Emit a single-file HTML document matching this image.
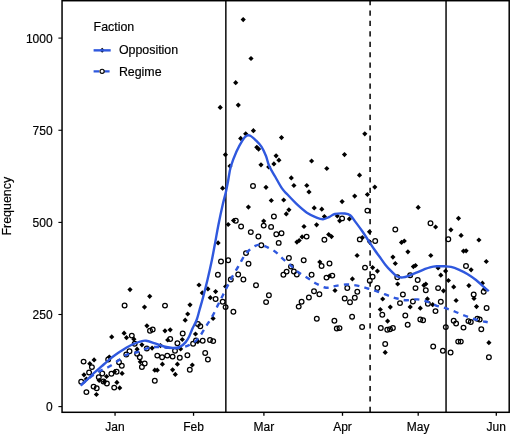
<!DOCTYPE html>
<html><head><meta charset="utf-8"><style>
html,body{margin:0;padding:0;background:#fff;}
body{width:510px;height:434px;overflow:hidden;}
svg{display:block;}
text{-webkit-font-smoothing:antialiased;}
svg{will-change:transform;}
.t{font-family:"Liberation Sans",sans-serif;font-size:12px;fill:#000;stroke:#000;stroke-width:0.18px;}
.t2{font-family:"Liberation Sans",sans-serif;font-size:12.4px;fill:#000;stroke:#000;stroke-width:0.18px;}
</style></head><body>
<svg width="510" height="434" viewBox="0 0 510 434">
<rect x="0" y="0" width="510" height="434" fill="#fff"/>
<line x1="225.85" y1="0" x2="225.85" y2="412" stroke="#000" stroke-width="1.45"/>
<line x1="446.05" y1="0" x2="446.05" y2="412" stroke="#000" stroke-width="1.45"/>
<line x1="370.1" y1="0" x2="370.1" y2="412" stroke="#000" stroke-width="1.5" stroke-dasharray="5.2 5.23"/>
<circle cx="253.0" cy="186.0" r="2.35" fill="none" stroke="#000" stroke-width="1.25"/>
<circle cx="395.3" cy="229.5" r="2.35" fill="none" stroke="#000" stroke-width="1.25"/>
<circle cx="430.5" cy="223.2" r="2.35" fill="none" stroke="#000" stroke-width="1.25"/>
<circle cx="448.3" cy="239.2" r="2.35" fill="none" stroke="#000" stroke-width="1.25"/>
<circle cx="235.8" cy="220.8" r="2.35" fill="none" stroke="#000" stroke-width="1.25"/>
<circle cx="241.1" cy="226.5" r="2.35" fill="none" stroke="#000" stroke-width="1.25"/>
<circle cx="250.8" cy="232.1" r="2.35" fill="none" stroke="#000" stroke-width="1.25"/>
<circle cx="258.4" cy="236.5" r="2.35" fill="none" stroke="#000" stroke-width="1.25"/>
<circle cx="263.7" cy="225.6" r="2.35" fill="none" stroke="#000" stroke-width="1.25"/>
<circle cx="261.3" cy="245.3" r="2.35" fill="none" stroke="#000" stroke-width="1.25"/>
<circle cx="246.0" cy="253.1" r="2.35" fill="none" stroke="#000" stroke-width="1.25"/>
<circle cx="221.0" cy="261.5" r="2.35" fill="none" stroke="#000" stroke-width="1.25"/>
<circle cx="228.2" cy="260.3" r="2.35" fill="none" stroke="#000" stroke-width="1.25"/>
<circle cx="273.9" cy="216.5" r="2.35" fill="none" stroke="#000" stroke-width="1.25"/>
<circle cx="271.1" cy="226.9" r="2.35" fill="none" stroke="#000" stroke-width="1.25"/>
<circle cx="276.3" cy="234.2" r="2.35" fill="none" stroke="#000" stroke-width="1.25"/>
<circle cx="281.5" cy="233.2" r="2.35" fill="none" stroke="#000" stroke-width="1.25"/>
<circle cx="278.7" cy="242.9" r="2.35" fill="none" stroke="#000" stroke-width="1.25"/>
<circle cx="306.6" cy="236.6" r="2.35" fill="none" stroke="#000" stroke-width="1.25"/>
<circle cx="324.4" cy="239.7" r="2.35" fill="none" stroke="#000" stroke-width="1.25"/>
<circle cx="288.9" cy="257.9" r="2.35" fill="none" stroke="#000" stroke-width="1.25"/>
<circle cx="303.7" cy="260.3" r="2.35" fill="none" stroke="#000" stroke-width="1.25"/>
<circle cx="329.5" cy="263.5" r="2.35" fill="none" stroke="#000" stroke-width="1.25"/>
<circle cx="367.4" cy="210.6" r="2.35" fill="none" stroke="#000" stroke-width="1.25"/>
<circle cx="342.1" cy="218.4" r="2.35" fill="none" stroke="#000" stroke-width="1.25"/>
<circle cx="359.8" cy="239.4" r="2.35" fill="none" stroke="#000" stroke-width="1.25"/>
<circle cx="375.2" cy="241.0" r="2.35" fill="none" stroke="#000" stroke-width="1.25"/>
<circle cx="165.0" cy="305.6" r="2.35" fill="none" stroke="#000" stroke-width="1.25"/>
<circle cx="124.6" cy="305.5" r="2.35" fill="none" stroke="#000" stroke-width="1.25"/>
<circle cx="217.9" cy="274.8" r="2.35" fill="none" stroke="#000" stroke-width="1.25"/>
<circle cx="238.2" cy="274.4" r="2.35" fill="none" stroke="#000" stroke-width="1.25"/>
<circle cx="230.8" cy="279.5" r="2.35" fill="none" stroke="#000" stroke-width="1.25"/>
<circle cx="243.4" cy="279.5" r="2.35" fill="none" stroke="#000" stroke-width="1.25"/>
<circle cx="256.0" cy="285.2" r="2.35" fill="none" stroke="#000" stroke-width="1.25"/>
<circle cx="215.6" cy="299.0" r="2.35" fill="none" stroke="#000" stroke-width="1.25"/>
<circle cx="222.7" cy="301.8" r="2.35" fill="none" stroke="#000" stroke-width="1.25"/>
<circle cx="225.6" cy="307.1" r="2.35" fill="none" stroke="#000" stroke-width="1.25"/>
<circle cx="233.4" cy="311.8" r="2.35" fill="none" stroke="#000" stroke-width="1.25"/>
<circle cx="266.1" cy="302.1" r="2.35" fill="none" stroke="#000" stroke-width="1.25"/>
<circle cx="197.9" cy="323.9" r="2.35" fill="none" stroke="#000" stroke-width="1.25"/>
<circle cx="321.6" cy="266.0" r="2.35" fill="none" stroke="#000" stroke-width="1.25"/>
<circle cx="291.0" cy="266.6" r="2.35" fill="none" stroke="#000" stroke-width="1.25"/>
<circle cx="286.6" cy="271.6" r="2.35" fill="none" stroke="#000" stroke-width="1.25"/>
<circle cx="283.4" cy="274.8" r="2.35" fill="none" stroke="#000" stroke-width="1.25"/>
<circle cx="293.9" cy="271.5" r="2.35" fill="none" stroke="#000" stroke-width="1.25"/>
<circle cx="296.8" cy="274.4" r="2.35" fill="none" stroke="#000" stroke-width="1.25"/>
<circle cx="311.6" cy="274.8" r="2.35" fill="none" stroke="#000" stroke-width="1.25"/>
<circle cx="326.5" cy="277.6" r="2.35" fill="none" stroke="#000" stroke-width="1.25"/>
<circle cx="314.0" cy="291.3" r="2.35" fill="none" stroke="#000" stroke-width="1.25"/>
<circle cx="319.4" cy="294.2" r="2.35" fill="none" stroke="#000" stroke-width="1.25"/>
<circle cx="308.9" cy="297.4" r="2.35" fill="none" stroke="#000" stroke-width="1.25"/>
<circle cx="301.6" cy="301.8" r="2.35" fill="none" stroke="#000" stroke-width="1.25"/>
<circle cx="298.7" cy="306.6" r="2.35" fill="none" stroke="#000" stroke-width="1.25"/>
<circle cx="268.9" cy="295.3" r="2.35" fill="none" stroke="#000" stroke-width="1.25"/>
<circle cx="316.8" cy="318.7" r="2.35" fill="none" stroke="#000" stroke-width="1.25"/>
<circle cx="332.3" cy="275.6" r="2.35" fill="none" stroke="#000" stroke-width="1.25"/>
<circle cx="365.0" cy="267.6" r="2.35" fill="none" stroke="#000" stroke-width="1.25"/>
<circle cx="372.6" cy="276.8" r="2.35" fill="none" stroke="#000" stroke-width="1.25"/>
<circle cx="369.8" cy="280.8" r="2.35" fill="none" stroke="#000" stroke-width="1.25"/>
<circle cx="347.3" cy="288.0" r="2.35" fill="none" stroke="#000" stroke-width="1.25"/>
<circle cx="357.3" cy="291.8" r="2.35" fill="none" stroke="#000" stroke-width="1.25"/>
<circle cx="354.8" cy="297.7" r="2.35" fill="none" stroke="#000" stroke-width="1.25"/>
<circle cx="344.7" cy="298.5" r="2.35" fill="none" stroke="#000" stroke-width="1.25"/>
<circle cx="350.0" cy="302.3" r="2.35" fill="none" stroke="#000" stroke-width="1.25"/>
<circle cx="377.4" cy="288.0" r="2.35" fill="none" stroke="#000" stroke-width="1.25"/>
<circle cx="382.3" cy="314.7" r="2.35" fill="none" stroke="#000" stroke-width="1.25"/>
<circle cx="352.1" cy="316.8" r="2.35" fill="none" stroke="#000" stroke-width="1.25"/>
<circle cx="334.4" cy="320.8" r="2.35" fill="none" stroke="#000" stroke-width="1.25"/>
<circle cx="397.3" cy="277.3" r="2.35" fill="none" stroke="#000" stroke-width="1.25"/>
<circle cx="410.2" cy="275.2" r="2.35" fill="none" stroke="#000" stroke-width="1.25"/>
<circle cx="417.7" cy="280.0" r="2.35" fill="none" stroke="#000" stroke-width="1.25"/>
<circle cx="415.5" cy="288.1" r="2.35" fill="none" stroke="#000" stroke-width="1.25"/>
<circle cx="425.8" cy="290.2" r="2.35" fill="none" stroke="#000" stroke-width="1.25"/>
<circle cx="438.1" cy="288.1" r="2.35" fill="none" stroke="#000" stroke-width="1.25"/>
<circle cx="402.9" cy="294.5" r="2.35" fill="none" stroke="#000" stroke-width="1.25"/>
<circle cx="400.0" cy="303.1" r="2.35" fill="none" stroke="#000" stroke-width="1.25"/>
<circle cx="412.9" cy="301.5" r="2.35" fill="none" stroke="#000" stroke-width="1.25"/>
<circle cx="427.9" cy="303.7" r="2.35" fill="none" stroke="#000" stroke-width="1.25"/>
<circle cx="440.8" cy="301.8" r="2.35" fill="none" stroke="#000" stroke-width="1.25"/>
<circle cx="435.5" cy="311.1" r="2.35" fill="none" stroke="#000" stroke-width="1.25"/>
<circle cx="405.3" cy="315.5" r="2.35" fill="none" stroke="#000" stroke-width="1.25"/>
<circle cx="420.3" cy="319.5" r="2.35" fill="none" stroke="#000" stroke-width="1.25"/>
<circle cx="423.1" cy="320.3" r="2.35" fill="none" stroke="#000" stroke-width="1.25"/>
<circle cx="407.7" cy="324.7" r="2.35" fill="none" stroke="#000" stroke-width="1.25"/>
<circle cx="453.7" cy="320.8" r="2.35" fill="none" stroke="#000" stroke-width="1.25"/>
<circle cx="456.1" cy="323.5" r="2.35" fill="none" stroke="#000" stroke-width="1.25"/>
<circle cx="466.0" cy="266.0" r="2.35" fill="none" stroke="#000" stroke-width="1.25"/>
<circle cx="483.7" cy="291.8" r="2.35" fill="none" stroke="#000" stroke-width="1.25"/>
<circle cx="473.7" cy="294.5" r="2.35" fill="none" stroke="#000" stroke-width="1.25"/>
<circle cx="486.6" cy="307.9" r="2.35" fill="none" stroke="#000" stroke-width="1.25"/>
<circle cx="468.4" cy="321.1" r="2.35" fill="none" stroke="#000" stroke-width="1.25"/>
<circle cx="470.8" cy="321.9" r="2.35" fill="none" stroke="#000" stroke-width="1.25"/>
<circle cx="477.3" cy="318.7" r="2.35" fill="none" stroke="#000" stroke-width="1.25"/>
<circle cx="479.7" cy="319.5" r="2.35" fill="none" stroke="#000" stroke-width="1.25"/>
<circle cx="463.5" cy="327.6" r="2.35" fill="none" stroke="#000" stroke-width="1.25"/>
<circle cx="481.3" cy="329.2" r="2.35" fill="none" stroke="#000" stroke-width="1.25"/>
<circle cx="445.8" cy="327.1" r="2.35" fill="none" stroke="#000" stroke-width="1.25"/>
<circle cx="458.2" cy="341.6" r="2.35" fill="none" stroke="#000" stroke-width="1.25"/>
<circle cx="460.8" cy="341.6" r="2.35" fill="none" stroke="#000" stroke-width="1.25"/>
<circle cx="450.6" cy="352.4" r="2.35" fill="none" stroke="#000" stroke-width="1.25"/>
<circle cx="488.9" cy="357.3" r="2.35" fill="none" stroke="#000" stroke-width="1.25"/>
<circle cx="380.8" cy="327.9" r="2.35" fill="none" stroke="#000" stroke-width="1.25"/>
<circle cx="387.3" cy="329.8" r="2.35" fill="none" stroke="#000" stroke-width="1.25"/>
<circle cx="390.0" cy="329.2" r="2.35" fill="none" stroke="#000" stroke-width="1.25"/>
<circle cx="392.9" cy="327.9" r="2.35" fill="none" stroke="#000" stroke-width="1.25"/>
<circle cx="385.2" cy="344.0" r="2.35" fill="none" stroke="#000" stroke-width="1.25"/>
<circle cx="433.2" cy="346.5" r="2.35" fill="none" stroke="#000" stroke-width="1.25"/>
<circle cx="442.9" cy="350.8" r="2.35" fill="none" stroke="#000" stroke-width="1.25"/>
<circle cx="336.8" cy="328.5" r="2.35" fill="none" stroke="#000" stroke-width="1.25"/>
<circle cx="339.5" cy="328.1" r="2.35" fill="none" stroke="#000" stroke-width="1.25"/>
<circle cx="362.1" cy="326.9" r="2.35" fill="none" stroke="#000" stroke-width="1.25"/>
<circle cx="200.3" cy="326.3" r="2.35" fill="none" stroke="#000" stroke-width="1.25"/>
<circle cx="193.1" cy="343.7" r="2.35" fill="none" stroke="#000" stroke-width="1.25"/>
<circle cx="196.0" cy="340.5" r="2.35" fill="none" stroke="#000" stroke-width="1.25"/>
<circle cx="202.7" cy="340.8" r="2.35" fill="none" stroke="#000" stroke-width="1.25"/>
<circle cx="210.0" cy="340.0" r="2.35" fill="none" stroke="#000" stroke-width="1.25"/>
<circle cx="213.2" cy="341.1" r="2.35" fill="none" stroke="#000" stroke-width="1.25"/>
<circle cx="205.2" cy="352.9" r="2.35" fill="none" stroke="#000" stroke-width="1.25"/>
<circle cx="207.9" cy="359.4" r="2.35" fill="none" stroke="#000" stroke-width="1.25"/>
<circle cx="187.4" cy="355.3" r="2.35" fill="none" stroke="#000" stroke-width="1.25"/>
<circle cx="189.8" cy="369.8" r="2.35" fill="none" stroke="#000" stroke-width="1.25"/>
<circle cx="150.0" cy="330.8" r="2.35" fill="none" stroke="#000" stroke-width="1.25"/>
<circle cx="152.7" cy="329.5" r="2.35" fill="none" stroke="#000" stroke-width="1.25"/>
<circle cx="182.7" cy="333.5" r="2.35" fill="none" stroke="#000" stroke-width="1.25"/>
<circle cx="131.8" cy="335.6" r="2.35" fill="none" stroke="#000" stroke-width="1.25"/>
<circle cx="170.2" cy="338.9" r="2.35" fill="none" stroke="#000" stroke-width="1.25"/>
<circle cx="177.4" cy="343.2" r="2.35" fill="none" stroke="#000" stroke-width="1.25"/>
<circle cx="146.8" cy="348.5" r="2.35" fill="none" stroke="#000" stroke-width="1.25"/>
<circle cx="134.7" cy="343.7" r="2.35" fill="none" stroke="#000" stroke-width="1.25"/>
<circle cx="129.5" cy="351.3" r="2.35" fill="none" stroke="#000" stroke-width="1.25"/>
<circle cx="126.3" cy="354.5" r="2.35" fill="none" stroke="#000" stroke-width="1.25"/>
<circle cx="137.1" cy="353.7" r="2.35" fill="none" stroke="#000" stroke-width="1.25"/>
<circle cx="139.8" cy="357.3" r="2.35" fill="none" stroke="#000" stroke-width="1.25"/>
<circle cx="157.3" cy="355.6" r="2.35" fill="none" stroke="#000" stroke-width="1.25"/>
<circle cx="162.1" cy="357.3" r="2.35" fill="none" stroke="#000" stroke-width="1.25"/>
<circle cx="167.3" cy="355.6" r="2.35" fill="none" stroke="#000" stroke-width="1.25"/>
<circle cx="172.6" cy="356.6" r="2.35" fill="none" stroke="#000" stroke-width="1.25"/>
<circle cx="179.8" cy="357.7" r="2.35" fill="none" stroke="#000" stroke-width="1.25"/>
<circle cx="175.0" cy="350.8" r="2.35" fill="none" stroke="#000" stroke-width="1.25"/>
<circle cx="144.7" cy="363.4" r="2.35" fill="none" stroke="#000" stroke-width="1.25"/>
<circle cx="141.9" cy="367.0" r="2.35" fill="none" stroke="#000" stroke-width="1.25"/>
<circle cx="154.8" cy="380.8" r="2.35" fill="none" stroke="#000" stroke-width="1.25"/>
<circle cx="83.6" cy="361.6" r="2.35" fill="none" stroke="#000" stroke-width="1.25"/>
<circle cx="91.9" cy="367.1" r="2.35" fill="none" stroke="#000" stroke-width="1.25"/>
<circle cx="89.1" cy="372.5" r="2.35" fill="none" stroke="#000" stroke-width="1.25"/>
<circle cx="81.2" cy="381.7" r="2.35" fill="none" stroke="#000" stroke-width="1.25"/>
<circle cx="93.6" cy="386.6" r="2.35" fill="none" stroke="#000" stroke-width="1.25"/>
<circle cx="96.7" cy="388.3" r="2.35" fill="none" stroke="#000" stroke-width="1.25"/>
<circle cx="86.4" cy="392.1" r="2.35" fill="none" stroke="#000" stroke-width="1.25"/>
<circle cx="98.8" cy="377.3" r="2.35" fill="none" stroke="#000" stroke-width="1.25"/>
<circle cx="102.3" cy="373.5" r="2.35" fill="none" stroke="#000" stroke-width="1.25"/>
<circle cx="121.8" cy="365.8" r="2.35" fill="none" stroke="#000" stroke-width="1.25"/>
<circle cx="111.4" cy="373.7" r="2.35" fill="none" stroke="#000" stroke-width="1.25"/>
<circle cx="116.6" cy="371.7" r="2.35" fill="none" stroke="#000" stroke-width="1.25"/>
<circle cx="106.9" cy="383.4" r="2.35" fill="none" stroke="#000" stroke-width="1.25"/>
<circle cx="103.5" cy="381.4" r="2.35" fill="none" stroke="#000" stroke-width="1.25"/>
<circle cx="114.2" cy="387.6" r="2.35" fill="none" stroke="#000" stroke-width="1.25"/>
<circle cx="119.0" cy="362.2" r="2.35" fill="none" stroke="#000" stroke-width="1.25"/>
<circle cx="108.2" cy="359.4" r="2.35" fill="none" stroke="#000" stroke-width="1.25"/>
<circle cx="248.5" cy="263.8" r="2.35" fill="none" stroke="#000" stroke-width="1.25"/>
<path d="M253.4,128.1l2.60,2.60l-2.60,2.60l-2.60,-2.60z" fill="#000"/>
<path d="M245.7,131.2l2.60,2.60l-2.60,2.60l-2.60,-2.60z" fill="#000"/>
<path d="M240.7,135.8l2.60,2.60l-2.60,2.60l-2.60,-2.60z" fill="#000"/>
<path d="M256.8,144.7l2.60,2.60l-2.60,2.60l-2.60,-2.60z" fill="#000"/>
<path d="M258.6,146.5l2.60,2.60l-2.60,2.60l-2.60,-2.60z" fill="#000"/>
<path d="M225.4,152.1l2.60,2.60l-2.60,2.60l-2.60,-2.60z" fill="#000"/>
<path d="M230.0,163.5l2.60,2.60l-2.60,2.60l-2.60,-2.60z" fill="#000"/>
<path d="M261.0,162.2l2.60,2.60l-2.60,2.60l-2.60,-2.60z" fill="#000"/>
<path d="M268.7,164.4l2.60,2.60l-2.60,2.60l-2.60,-2.60z" fill="#000"/>
<path d="M273.9,161.3l2.60,2.60l-2.60,2.60l-2.60,-2.60z" fill="#000"/>
<path d="M222.6,185.6l2.60,2.60l-2.60,2.60l-2.60,-2.60z" fill="#000"/>
<path d="M266.0,184.7l2.60,2.60l-2.60,2.60l-2.60,-2.60z" fill="#000"/>
<path d="M243.2,17.0l2.60,2.60l-2.60,2.60l-2.60,-2.60z" fill="#000"/>
<path d="M251.0,55.9l2.60,2.60l-2.60,2.60l-2.60,-2.60z" fill="#000"/>
<path d="M235.7,80.1l2.60,2.60l-2.60,2.60l-2.60,-2.60z" fill="#000"/>
<path d="M238.3,102.5l2.60,2.60l-2.60,2.60l-2.60,-2.60z" fill="#000"/>
<path d="M220.2,104.8l2.60,2.60l-2.60,2.60l-2.60,-2.60z" fill="#000"/>
<path d="M281.5,135.0l2.60,2.60l-2.60,2.60l-2.60,-2.60z" fill="#000"/>
<path d="M364.8,131.2l2.60,2.60l-2.60,2.60l-2.60,-2.60z" fill="#000"/>
<path d="M344.5,152.0l2.60,2.60l-2.60,2.60l-2.60,-2.60z" fill="#000"/>
<path d="M276.1,153.2l2.60,2.60l-2.60,2.60l-2.60,-2.60z" fill="#000"/>
<path d="M278.9,157.6l2.60,2.60l-2.60,2.60l-2.60,-2.60z" fill="#000"/>
<path d="M311.6,158.4l2.60,2.60l-2.60,2.60l-2.60,-2.60z" fill="#000"/>
<path d="M326.8,165.9l2.60,2.60l-2.60,2.60l-2.60,-2.60z" fill="#000"/>
<path d="M291.3,175.3l2.60,2.60l-2.60,2.60l-2.60,-2.60z" fill="#000"/>
<path d="M293.9,182.9l2.60,2.60l-2.60,2.60l-2.60,-2.60z" fill="#000"/>
<path d="M306.8,182.9l2.60,2.60l-2.60,2.60l-2.60,-2.60z" fill="#000"/>
<path d="M309.0,189.3l2.60,2.60l-2.60,2.60l-2.60,-2.60z" fill="#000"/>
<path d="M271.3,197.9l2.60,2.60l-2.60,2.60l-2.60,-2.60z" fill="#000"/>
<path d="M283.7,197.4l2.60,2.60l-2.60,2.60l-2.60,-2.60z" fill="#000"/>
<path d="M359.5,172.6l2.60,2.60l-2.60,2.60l-2.60,-2.60z" fill="#000"/>
<path d="M374.8,184.5l2.60,2.60l-2.60,2.60l-2.60,-2.60z" fill="#000"/>
<path d="M367.4,191.9l2.60,2.60l-2.60,2.60l-2.60,-2.60z" fill="#000"/>
<path d="M354.7,193.5l2.60,2.60l-2.60,2.60l-2.60,-2.60z" fill="#000"/>
<path d="M342.1,199.0l2.60,2.60l-2.60,2.60l-2.60,-2.60z" fill="#000"/>
<path d="M418.2,204.8l2.60,2.60l-2.60,2.60l-2.60,-2.60z" fill="#000"/>
<path d="M435.6,224.4l2.60,2.60l-2.60,2.60l-2.60,-2.60z" fill="#000"/>
<path d="M458.5,215.7l2.60,2.60l-2.60,2.60l-2.60,-2.60z" fill="#000"/>
<path d="M450.9,227.2l2.60,2.60l-2.60,2.60l-2.60,-2.60z" fill="#000"/>
<path d="M461.1,232.8l2.60,2.60l-2.60,2.60l-2.60,-2.60z" fill="#000"/>
<path d="M478.9,237.4l2.60,2.60l-2.60,2.60l-2.60,-2.60z" fill="#000"/>
<path d="M401.5,239.8l2.60,2.60l-2.60,2.60l-2.60,-2.60z" fill="#000"/>
<path d="M404.3,238.4l2.60,2.60l-2.60,2.60l-2.60,-2.60z" fill="#000"/>
<path d="M248.4,204.5l2.60,2.60l-2.60,2.60l-2.60,-2.60z" fill="#000"/>
<path d="M233.5,217.9l2.60,2.60l-2.60,2.60l-2.60,-2.60z" fill="#000"/>
<path d="M228.2,221.9l2.60,2.60l-2.60,2.60l-2.60,-2.60z" fill="#000"/>
<path d="M218.1,240.3l2.60,2.60l-2.60,2.60l-2.60,-2.60z" fill="#000"/>
<path d="M263.7,218.5l2.60,2.60l-2.60,2.60l-2.60,-2.60z" fill="#000"/>
<path d="M288.9,207.2l2.60,2.60l-2.60,2.60l-2.60,-2.60z" fill="#000"/>
<path d="M286.3,211.3l2.60,2.60l-2.60,2.60l-2.60,-2.60z" fill="#000"/>
<path d="M314.2,205.3l2.60,2.60l-2.60,2.60l-2.60,-2.60z" fill="#000"/>
<path d="M321.8,206.6l2.60,2.60l-2.60,2.60l-2.60,-2.60z" fill="#000"/>
<path d="M324.4,213.9l2.60,2.60l-2.60,2.60l-2.60,-2.60z" fill="#000"/>
<path d="M304.0,223.9l2.60,2.60l-2.60,2.60l-2.60,-2.60z" fill="#000"/>
<path d="M316.6,222.2l2.60,2.60l-2.60,2.60l-2.60,-2.60z" fill="#000"/>
<path d="M302.1,234.3l2.60,2.60l-2.60,2.60l-2.60,-2.60z" fill="#000"/>
<path d="M296.9,239.5l2.60,2.60l-2.60,2.60l-2.60,-2.60z" fill="#000"/>
<path d="M299.2,237.9l2.60,2.60l-2.60,2.60l-2.60,-2.60z" fill="#000"/>
<path d="M328.7,231.9l2.60,2.60l-2.60,2.60l-2.60,-2.60z" fill="#000"/>
<path d="M331.5,234.0l2.60,2.60l-2.60,2.60l-2.60,-2.60z" fill="#000"/>
<path d="M319.8,259.4l2.60,2.60l-2.60,2.60l-2.60,-2.60z" fill="#000"/>
<path d="M339.7,218.2l2.60,2.60l-2.60,2.60l-2.60,-2.60z" fill="#000"/>
<path d="M337.3,213.4l2.60,2.60l-2.60,2.60l-2.60,-2.60z" fill="#000"/>
<path d="M349.4,216.3l2.60,2.60l-2.60,2.60l-2.60,-2.60z" fill="#000"/>
<path d="M369.5,229.2l2.60,2.60l-2.60,2.60l-2.60,-2.60z" fill="#000"/>
<path d="M362.3,235.1l2.60,2.60l-2.60,2.60l-2.60,-2.60z" fill="#000"/>
<path d="M369.5,239.2l2.60,2.60l-2.60,2.60l-2.60,-2.60z" fill="#000"/>
<path d="M357.1,252.9l2.60,2.60l-2.60,2.60l-2.60,-2.60z" fill="#000"/>
<path d="M392.9,254.5l2.60,2.60l-2.60,2.60l-2.60,-2.60z" fill="#000"/>
<path d="M395.3,260.9l2.60,2.60l-2.60,2.60l-2.60,-2.60z" fill="#000"/>
<path d="M407.9,249.2l2.60,2.60l-2.60,2.60l-2.60,-2.60z" fill="#000"/>
<path d="M430.8,252.9l2.60,2.60l-2.60,2.60l-2.60,-2.60z" fill="#000"/>
<path d="M463.5,248.5l2.60,2.60l-2.60,2.60l-2.60,-2.60z" fill="#000"/>
<path d="M466.1,248.2l2.60,2.60l-2.60,2.60l-2.60,-2.60z" fill="#000"/>
<path d="M486.3,258.9l2.60,2.60l-2.60,2.60l-2.60,-2.60z" fill="#000"/>
<path d="M130.0,287.0l2.60,2.60l-2.60,2.60l-2.60,-2.60z" fill="#000"/>
<path d="M149.7,293.7l2.60,2.60l-2.60,2.60l-2.60,-2.60z" fill="#000"/>
<path d="M144.5,304.5l2.60,2.60l-2.60,2.60l-2.60,-2.60z" fill="#000"/>
<path d="M190.0,302.2l2.60,2.60l-2.60,2.60l-2.60,-2.60z" fill="#000"/>
<path d="M187.7,311.4l2.60,2.60l-2.60,2.60l-2.60,-2.60z" fill="#000"/>
<path d="M185.2,317.6l2.60,2.60l-2.60,2.60l-2.60,-2.60z" fill="#000"/>
<path d="M199.0,282.4l2.60,2.60l-2.60,2.60l-2.60,-2.60z" fill="#000"/>
<path d="M146.9,323.2l2.60,2.60l-2.60,2.60l-2.60,-2.60z" fill="#000"/>
<path d="M111.7,334.3l2.60,2.60l-2.60,2.60l-2.60,-2.60z" fill="#000"/>
<path d="M124.1,330.6l2.60,2.60l-2.60,2.60l-2.60,-2.60z" fill="#000"/>
<path d="M126.5,335.1l2.60,2.60l-2.60,2.60l-2.60,-2.60z" fill="#000"/>
<path d="M207.9,286.3l2.60,2.60l-2.60,2.60l-2.60,-2.60z" fill="#000"/>
<path d="M215.6,289.0l2.60,2.60l-2.60,2.60l-2.60,-2.60z" fill="#000"/>
<path d="M210.3,295.1l2.60,2.60l-2.60,2.60l-2.60,-2.60z" fill="#000"/>
<path d="M213.1,315.8l2.60,2.60l-2.60,2.60l-2.60,-2.60z" fill="#000"/>
<path d="M225.6,283.9l2.60,2.60l-2.60,2.60l-2.60,-2.60z" fill="#000"/>
<path d="M202.3,290.3l2.60,2.60l-2.60,2.60l-2.60,-2.60z" fill="#000"/>
<path d="M329.4,273.4l2.60,2.60l-2.60,2.60l-2.60,-2.60z" fill="#000"/>
<path d="M372.6,265.0l2.60,2.60l-2.60,2.60l-2.60,-2.60z" fill="#000"/>
<path d="M377.4,268.5l2.60,2.60l-2.60,2.60l-2.60,-2.60z" fill="#000"/>
<path d="M352.4,276.3l2.60,2.60l-2.60,2.60l-2.60,-2.60z" fill="#000"/>
<path d="M335.0,287.9l2.60,2.60l-2.60,2.60l-2.60,-2.60z" fill="#000"/>
<path d="M382.7,296.4l2.60,2.60l-2.60,2.60l-2.60,-2.60z" fill="#000"/>
<path d="M390.3,304.5l2.60,2.60l-2.60,2.60l-2.60,-2.60z" fill="#000"/>
<path d="M380.3,306.9l2.60,2.60l-2.60,2.60l-2.60,-2.60z" fill="#000"/>
<path d="M387.6,318.5l2.60,2.60l-2.60,2.60l-2.60,-2.60z" fill="#000"/>
<path d="M413.4,264.0l2.60,2.60l-2.60,2.60l-2.60,-2.60z" fill="#000"/>
<path d="M415.5,262.9l2.60,2.60l-2.60,2.60l-2.60,-2.60z" fill="#000"/>
<path d="M397.7,281.4l2.60,2.60l-2.60,2.60l-2.60,-2.60z" fill="#000"/>
<path d="M423.9,282.7l2.60,2.60l-2.60,2.60l-2.60,-2.60z" fill="#000"/>
<path d="M425.8,281.4l2.60,2.60l-2.60,2.60l-2.60,-2.60z" fill="#000"/>
<path d="M440.8,272.6l2.60,2.60l-2.60,2.60l-2.60,-2.60z" fill="#000"/>
<path d="M438.1,265.3l2.60,2.60l-2.60,2.60l-2.60,-2.60z" fill="#000"/>
<path d="M445.6,268.5l2.60,2.60l-2.60,2.60l-2.60,-2.60z" fill="#000"/>
<path d="M448.4,277.9l2.60,2.60l-2.60,2.60l-2.60,-2.60z" fill="#000"/>
<path d="M453.7,284.3l2.60,2.60l-2.60,2.60l-2.60,-2.60z" fill="#000"/>
<path d="M443.5,288.2l2.60,2.60l-2.60,2.60l-2.60,-2.60z" fill="#000"/>
<path d="M456.1,297.9l2.60,2.60l-2.60,2.60l-2.60,-2.60z" fill="#000"/>
<path d="M427.4,296.3l2.60,2.60l-2.60,2.60l-2.60,-2.60z" fill="#000"/>
<path d="M432.7,302.1l2.60,2.60l-2.60,2.60l-2.60,-2.60z" fill="#000"/>
<path d="M410.2,304.3l2.60,2.60l-2.60,2.60l-2.60,-2.60z" fill="#000"/>
<path d="M420.3,305.6l2.60,2.60l-2.60,2.60l-2.60,-2.60z" fill="#000"/>
<path d="M471.1,267.2l2.60,2.60l-2.60,2.60l-2.60,-2.60z" fill="#000"/>
<path d="M468.9,283.0l2.60,2.60l-2.60,2.60l-2.60,-2.60z" fill="#000"/>
<path d="M482.4,280.6l2.60,2.60l-2.60,2.60l-2.60,-2.60z" fill="#000"/>
<path d="M484.5,286.3l2.60,2.60l-2.60,2.60l-2.60,-2.60z" fill="#000"/>
<path d="M474.0,295.9l2.60,2.60l-2.60,2.60l-2.60,-2.60z" fill="#000"/>
<path d="M476.5,304.0l2.60,2.60l-2.60,2.60l-2.60,-2.60z" fill="#000"/>
<path d="M488.9,340.1l2.60,2.60l-2.60,2.60l-2.60,-2.60z" fill="#000"/>
<path d="M385.2,349.8l2.60,2.60l-2.60,2.60l-2.60,-2.60z" fill="#000"/>
<path d="M195.5,331.4l2.60,2.60l-2.60,2.60l-2.60,-2.60z" fill="#000"/>
<path d="M197.9,339.0l2.60,2.60l-2.60,2.60l-2.60,-2.60z" fill="#000"/>
<path d="M192.3,362.4l2.60,2.60l-2.60,2.60l-2.60,-2.60z" fill="#000"/>
<path d="M165.0,328.2l2.60,2.60l-2.60,2.60l-2.60,-2.60z" fill="#000"/>
<path d="M170.2,327.2l2.60,2.60l-2.60,2.60l-2.60,-2.60z" fill="#000"/>
<path d="M133.9,336.6l2.60,2.60l-2.60,2.60l-2.60,-2.60z" fill="#000"/>
<path d="M167.7,337.4l2.60,2.60l-2.60,2.60l-2.60,-2.60z" fill="#000"/>
<path d="M182.3,336.9l2.60,2.60l-2.60,2.60l-2.60,-2.60z" fill="#000"/>
<path d="M141.9,342.2l2.60,2.60l-2.60,2.60l-2.60,-2.60z" fill="#000"/>
<path d="M152.1,345.5l2.60,2.60l-2.60,2.60l-2.60,-2.60z" fill="#000"/>
<path d="M137.1,346.6l2.60,2.60l-2.60,2.60l-2.60,-2.60z" fill="#000"/>
<path d="M160.5,343.0l2.60,2.60l-2.60,2.60l-2.60,-2.60z" fill="#000"/>
<path d="M180.6,346.3l2.60,2.60l-2.60,2.60l-2.60,-2.60z" fill="#000"/>
<path d="M140.3,359.2l2.60,2.60l-2.60,2.60l-2.60,-2.60z" fill="#000"/>
<path d="M162.4,361.6l2.60,2.60l-2.60,2.60l-2.60,-2.60z" fill="#000"/>
<path d="M177.4,361.6l2.60,2.60l-2.60,2.60l-2.60,-2.60z" fill="#000"/>
<path d="M154.8,367.6l2.60,2.60l-2.60,2.60l-2.60,-2.60z" fill="#000"/>
<path d="M157.3,367.6l2.60,2.60l-2.60,2.60l-2.60,-2.60z" fill="#000"/>
<path d="M172.6,367.2l2.60,2.60l-2.60,2.60l-2.60,-2.60z" fill="#000"/>
<path d="M175.3,371.8l2.60,2.60l-2.60,2.60l-2.60,-2.60z" fill="#000"/>
<path d="M94.1,357.3l2.60,2.60l-2.60,2.60l-2.60,-2.60z" fill="#000"/>
<path d="M89.8,361.1l2.60,2.60l-2.60,2.60l-2.60,-2.60z" fill="#000"/>
<path d="M84.0,372.2l2.60,2.60l-2.60,2.60l-2.60,-2.60z" fill="#000"/>
<path d="M86.4,376.4l2.60,2.60l-2.60,2.60l-2.60,-2.60z" fill="#000"/>
<path d="M96.4,391.9l2.60,2.60l-2.60,2.60l-2.60,-2.60z" fill="#000"/>
<path d="M99.2,377.8l2.60,2.60l-2.60,2.60l-2.60,-2.60z" fill="#000"/>
<path d="M104.3,379.1l2.60,2.60l-2.60,2.60l-2.60,-2.60z" fill="#000"/>
<path d="M114.5,369.1l2.60,2.60l-2.60,2.60l-2.60,-2.60z" fill="#000"/>
<path d="M122.1,370.8l2.60,2.60l-2.60,2.60l-2.60,-2.60z" fill="#000"/>
<path d="M106.6,373.9l2.60,2.60l-2.60,2.60l-2.60,-2.60z" fill="#000"/>
<path d="M116.9,379.8l2.60,2.60l-2.60,2.60l-2.60,-2.60z" fill="#000"/>
<path d="M119.7,385.3l2.60,2.60l-2.60,2.60l-2.60,-2.60z" fill="#000"/>
<path d="M109.3,354.5l2.60,2.60l-2.60,2.60l-2.60,-2.60z" fill="#000"/>
<path d="M80.50,385.50 C81.75,384.38 85.58,381.02 88.00,378.80 C90.42,376.58 92.70,374.30 95.00,372.20 C97.30,370.10 99.80,367.97 101.80,366.20 C103.80,364.43 105.28,363.08 107.00,361.60 C108.72,360.12 110.27,358.73 112.10,357.30 C113.93,355.87 116.10,354.32 118.00,353.00 C119.90,351.68 121.67,350.53 123.50,349.40 C125.33,348.27 127.17,347.15 129.00,346.20 C130.83,345.25 132.67,344.47 134.50,343.70 C136.33,342.93 138.08,342.10 140.00,341.60 C141.92,341.10 143.50,340.40 146.00,340.70 C148.50,341.00 152.00,342.43 155.00,343.40 C158.00,344.37 161.00,345.73 164.00,346.50 C167.00,347.27 170.28,347.98 173.00,348.00 C175.72,348.02 178.18,347.58 180.30,346.60 C182.42,345.62 184.20,343.83 185.70,342.10 C187.20,340.37 188.17,338.47 189.30,336.20 C190.43,333.93 191.28,331.20 192.50,328.50 C193.72,325.80 195.43,323.08 196.60,320.00 C197.77,316.92 198.42,313.80 199.50,310.00 C200.58,306.20 201.77,302.25 203.10,297.20 C204.43,292.15 206.03,285.90 207.50,279.70 C208.97,273.50 210.62,266.20 211.90,260.00 C213.18,253.80 214.12,248.33 215.20,242.50 C216.28,236.67 217.13,231.37 218.40,225.00 C219.67,218.63 221.55,209.82 222.80,204.30 C224.05,198.78 225.03,195.70 225.90,191.90 C226.77,188.10 227.20,185.65 228.00,181.50 C228.80,177.35 229.28,172.00 230.70,167.00 C232.12,162.00 234.53,155.95 236.50,151.50 C238.47,147.05 240.82,142.93 242.50,140.30 C244.18,137.67 245.30,136.47 246.60,135.70 C247.90,134.93 248.77,134.93 250.30,135.70 C251.83,136.47 253.95,138.47 255.80,140.30 C257.65,142.13 259.70,144.08 261.40,146.70 C263.10,149.32 264.70,152.78 266.00,156.00 C267.30,159.22 267.63,162.50 269.20,166.00 C270.77,169.50 273.27,173.27 275.40,177.00 C277.53,180.73 279.95,185.43 282.00,188.40 C284.05,191.37 285.15,192.08 287.70,194.80 C290.25,197.52 294.10,201.72 297.30,204.70 C300.50,207.68 303.68,210.55 306.90,212.70 C310.12,214.85 313.90,216.52 316.60,217.60 C319.30,218.68 320.95,219.33 323.10,219.20 C325.25,219.07 327.55,217.67 329.50,216.80 C331.45,215.93 332.30,214.55 334.80,214.00 C337.30,213.45 341.93,213.30 344.50,213.50 C347.07,213.70 348.32,213.72 350.20,215.20 C352.08,216.68 353.78,219.72 355.80,222.40 C357.82,225.08 360.15,228.20 362.30,231.30 C364.45,234.40 366.63,237.88 368.70,241.00 C370.77,244.12 372.92,247.42 374.70,250.00 C376.48,252.58 377.63,254.05 379.40,256.50 C381.17,258.95 383.33,262.25 385.30,264.70 C387.27,267.15 389.23,269.23 391.20,271.20 C393.17,273.17 395.15,275.47 397.10,276.50 C399.05,277.53 400.75,277.60 402.90,277.40 C405.05,277.20 407.63,276.13 410.00,275.30 C412.37,274.47 414.75,273.38 417.10,272.40 C419.45,271.42 421.95,270.25 424.10,269.40 C426.25,268.55 427.88,267.82 430.00,267.30 C432.12,266.78 434.33,266.47 436.80,266.30 C439.27,266.13 442.43,266.20 444.80,266.30 C447.17,266.40 448.68,266.35 451.00,266.90 C453.32,267.45 455.98,268.42 458.70,269.60 C461.42,270.78 464.42,272.27 467.30,274.00 C470.18,275.73 473.40,277.98 476.00,280.00 C478.60,282.02 480.77,284.23 482.90,286.10 C485.03,287.97 487.82,290.35 488.80,291.20" fill="none" stroke="#2f58de" stroke-width="2.4"/>
<path d="M80.50,385.50 C82.08,384.17 86.75,379.92 90.00,377.50 C93.25,375.08 96.87,372.78 100.00,371.00 C103.13,369.22 105.80,368.50 108.80,366.80 C111.80,365.10 115.08,362.80 118.00,360.80 C120.92,358.80 123.30,356.18 126.30,354.80 C129.30,353.42 132.55,353.58 136.00,352.50 C139.45,351.42 143.83,349.22 147.00,348.30 C150.17,347.38 152.00,347.13 155.00,347.00 C158.00,346.87 161.67,347.28 165.00,347.50 C168.33,347.72 171.50,348.50 175.00,348.30 C178.50,348.10 183.33,347.02 186.00,346.30 C188.67,345.58 189.30,344.95 191.00,344.00 C192.70,343.05 194.57,342.12 196.20,340.60 C197.83,339.08 199.08,337.40 200.80,334.90 C202.52,332.40 204.58,328.68 206.50,325.60 C208.42,322.52 210.38,319.85 212.30,316.40 C214.22,312.95 216.28,308.35 218.00,304.90 C219.72,301.45 221.05,298.77 222.60,295.70 C224.15,292.63 225.75,289.57 227.30,286.50 C228.85,283.43 229.98,280.77 231.90,277.30 C233.82,273.83 236.70,269.35 238.80,265.70 C240.90,262.05 242.73,258.02 244.50,255.40 C246.27,252.78 247.60,251.58 249.40,250.00 C251.20,248.42 253.43,246.78 255.30,245.90 C257.17,245.02 258.63,244.50 260.60,244.70 C262.57,244.90 264.65,245.92 267.10,247.10 C269.55,248.28 272.67,249.85 275.30,251.80 C277.93,253.75 280.35,256.55 282.90,258.80 C285.45,261.05 288.15,263.13 290.60,265.30 C293.05,267.47 294.77,269.68 297.60,271.80 C300.43,273.92 304.45,276.02 307.60,278.00 C310.75,279.98 313.42,282.08 316.50,283.70 C319.58,285.32 323.07,287.30 326.10,287.70 C329.13,288.10 331.38,286.63 334.70,286.10 C338.02,285.57 342.23,284.58 346.00,284.50 C349.77,284.42 353.68,284.93 357.30,285.60 C360.92,286.27 364.22,287.47 367.70,288.50 C371.18,289.53 374.57,290.53 378.20,291.80 C381.83,293.07 386.37,294.98 389.50,296.10 C392.63,297.22 394.23,297.82 397.00,298.50 C399.77,299.18 402.70,300.05 406.10,300.20 C409.50,300.35 413.77,299.13 417.40,299.40 C421.03,299.67 424.67,300.73 427.90,301.80 C431.13,302.87 433.85,304.73 436.80,305.80 C439.75,306.87 442.62,307.25 445.60,308.20 C448.58,309.15 451.57,310.28 454.70,311.50 C457.83,312.72 460.92,314.17 464.40,315.50 C467.88,316.83 471.72,318.37 475.60,319.50 C479.48,320.63 485.68,321.83 487.70,322.30" fill="none" stroke="#2f58de" stroke-width="2.4" stroke-dasharray="5.2 5.17" stroke-dashoffset="-1.3"/>
<text x="93.6" y="30.7" class="t2">Faction</text>
<path d="M102.2,47.8l2.5,2.5l-2.5,2.5l-2.5,-2.5z" fill="#000"/>
<line x1="93.6" y1="50.35" x2="110.7" y2="50.35" stroke="#2f58de" stroke-width="2.4"/>
<text x="118.9" y="54.4" class="t2">Opposition</text>
<line x1="93.6" y1="71.35" x2="109.6" y2="71.35" stroke="#2f58de" stroke-width="2.4" stroke-dasharray="5.4 5.2"/>
<circle cx="102.1" cy="71.35" r="2.1" fill="#fff" stroke="#000" stroke-width="1.2"/>
<text x="118.9" y="75.6" class="t2">Regime</text>
<line x1="58.4" y1="406.60" x2="62" y2="406.60" stroke="#000" stroke-width="1.1"/>
<text x="52.6" y="411.30" text-anchor="end" class="t">0</text>
<line x1="58.4" y1="314.50" x2="62" y2="314.50" stroke="#000" stroke-width="1.1"/>
<text x="52.6" y="319.20" text-anchor="end" class="t">250</text>
<line x1="58.4" y1="222.40" x2="62" y2="222.40" stroke="#000" stroke-width="1.1"/>
<text x="52.6" y="227.10" text-anchor="end" class="t">500</text>
<line x1="58.4" y1="130.25" x2="62" y2="130.25" stroke="#000" stroke-width="1.1"/>
<text x="52.6" y="134.95" text-anchor="end" class="t">750</text>
<line x1="58.4" y1="38.10" x2="62" y2="38.10" stroke="#000" stroke-width="1.1"/>
<text x="52.6" y="42.80" text-anchor="end" class="t">1000</text>
<line x1="115.05" y1="412.5" x2="115.05" y2="415.8" stroke="#000" stroke-width="1.3"/>
<text x="115.05" y="430.8" text-anchor="middle" class="t">Jan</text>
<line x1="193.55" y1="412.5" x2="193.55" y2="415.8" stroke="#000" stroke-width="1.3"/>
<text x="193.55" y="430.8" text-anchor="middle" class="t">Feb</text>
<line x1="263.90" y1="412.5" x2="263.90" y2="415.8" stroke="#000" stroke-width="1.3"/>
<text x="263.90" y="430.8" text-anchor="middle" class="t">Mar</text>
<line x1="342.50" y1="412.5" x2="342.50" y2="415.8" stroke="#000" stroke-width="1.3"/>
<text x="342.50" y="430.8" text-anchor="middle" class="t">Apr</text>
<line x1="418.20" y1="412.5" x2="418.20" y2="415.8" stroke="#000" stroke-width="1.3"/>
<text x="418.20" y="430.8" text-anchor="middle" class="t">May</text>
<line x1="496.30" y1="412.5" x2="496.30" y2="415.8" stroke="#000" stroke-width="1.3"/>
<text x="496.30" y="430.8" text-anchor="middle" class="t">Jun</text>
<text transform="translate(10.6,206.2) rotate(-90)" text-anchor="middle" class="t2">Frequency</text>
<rect x="62.05" y="0.7" width="447.15" height="411.6" fill="none" stroke="#000" stroke-width="1.5"/>
</svg>
</body></html>
